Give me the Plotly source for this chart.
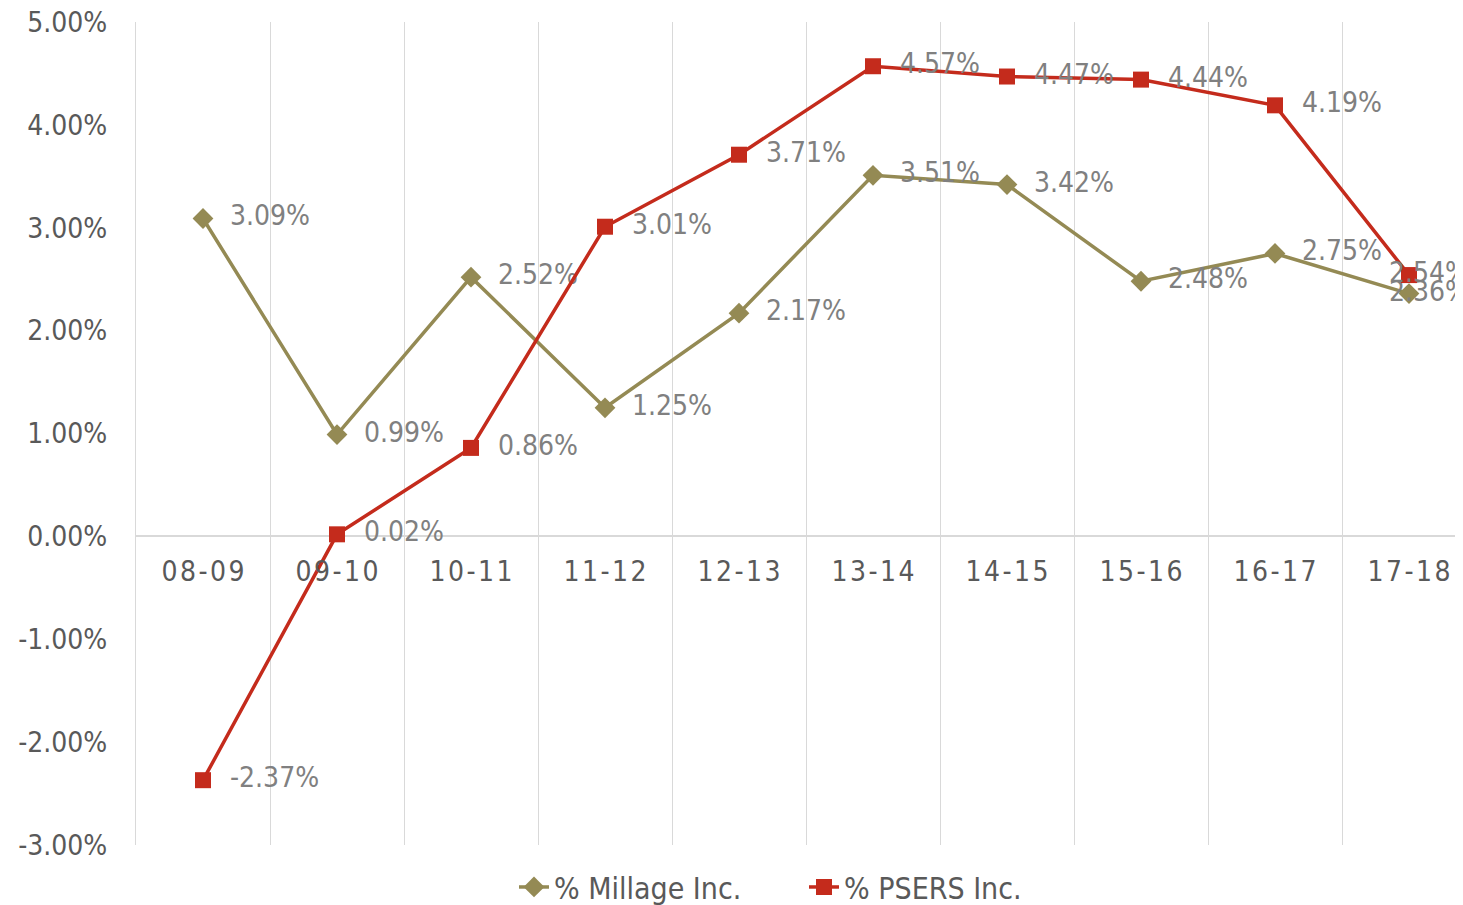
import plotly.graph_objects as go

categories = ["08-09", "09-10", "10-11", "11-12", "12-13", "13-14", "14-15", "15-16", "16-17", "17-18"]
millage = [3.09, 0.99, 2.52, 1.25, 2.17, 3.51, 3.42, 2.48, 2.75, 2.36]
psers = [-2.37, 0.02, 0.86, 3.01, 3.71, 4.57, 4.47, 4.44, 4.19, 2.54]
y_tick_values = [-3, -2, -1, 0, 1, 2, 3, 4, 5]
y_tick_labels = ["-3.00%", "-2.00%", "-1.00%", "0.00%", "1.00%", "2.00%", "3.00%", "4.00%", "5.00%"]
x_tick_labels = ["\u200a".join(list(c)) for c in categories]

FONT = "Liberation Sans Narrow, DejaVu Sans Condensed, sans-serif"
GRID = "#d9d9d9"
NB = "\u00a0"

# page body has an 8px default margin; compensate so the plot lands where the reference has it
OFF = 8
PLOT_L, PLOT_T, PLOT_W, PLOT_H = 136, 22, 1327, 823
W, H = 1463 - OFF, 905 - OFF

n = len(categories)
positions = ["middle right"] * (n - 1) + ["middle center"]
templates = [NB * 2 + "%{y:.2f}%"] * (n - 1) + [NB * 5 + "%{y:.2f}%"]

fig = go.Figure()
fig.add_trace(go.Scatter(
    x=categories, y=millage, name="% Millage Inc.", mode="lines+markers+text",
    line=dict(color="#948a54", width=3.5),
    marker=dict(symbol="diamond", size=16, color="#948a54"),
    texttemplate=templates, textposition=positions,
    textfont=dict(size=28, color="#808080", family=FONT), cliponaxis=False,
))
fig.add_trace(go.Scatter(
    x=categories, y=psers, name="% PSERS Inc.", mode="lines+markers+text",
    line=dict(color="#c42b1c", width=3.5),
    marker=dict(symbol="square", size=16, color="#c42b1c"),
    texttemplate=templates, textposition=positions,
    textfont=dict(size=28, color="#808080", family=FONT), cliponaxis=False,
))

fig.update_layout(
    width=W, height=H,
    margin=dict(l=PLOT_L - OFF, r=0, t=PLOT_T - OFF, b=H - (PLOT_T - OFF) - PLOT_H, autoexpand=False),
    paper_bgcolor="white", plot_bgcolor="white",
    font=dict(family=FONT, size=28, color="#595959"),
    showlegend=True,
    legend=dict(orientation="h", x=(514 - PLOT_L) / PLOT_W, xanchor="left", y=-0.051, yanchor="middle",
                font=dict(size=30, color="#595959"), entrywidth=245, entrywidthmode="pixels"),
    xaxis=dict(
        type="category", categoryorder="array", categoryarray=categories,
        tickvals=categories, ticktext=x_tick_labels,
        range=[-0.5, -0.5 + PLOT_W / 134],
        tickson="boundaries", showgrid=True, gridcolor=GRID, gridwidth=1,
        ticks="", showline=False, zeroline=False,
        anchor="free", position=0.375, automargin=False,
        ticklabelstandoff=16,
        tickfont=dict(size=28, color="#595959"),
    ),
    yaxis=dict(
        range=[-3, 5], tickvals=y_tick_values, ticktext=y_tick_labels,
        showgrid=False, zeroline=True, zerolinecolor=GRID, zerolinewidth=1.5,
        showline=True, linecolor=GRID, linewidth=1.2,
        ticks="", automargin=False, ticklabelstandoff=22, ticklabeloverflow="allow",
        tickfont=dict(size=28, color="#595959"),
    ),
)

fig.write_html("out.html")
